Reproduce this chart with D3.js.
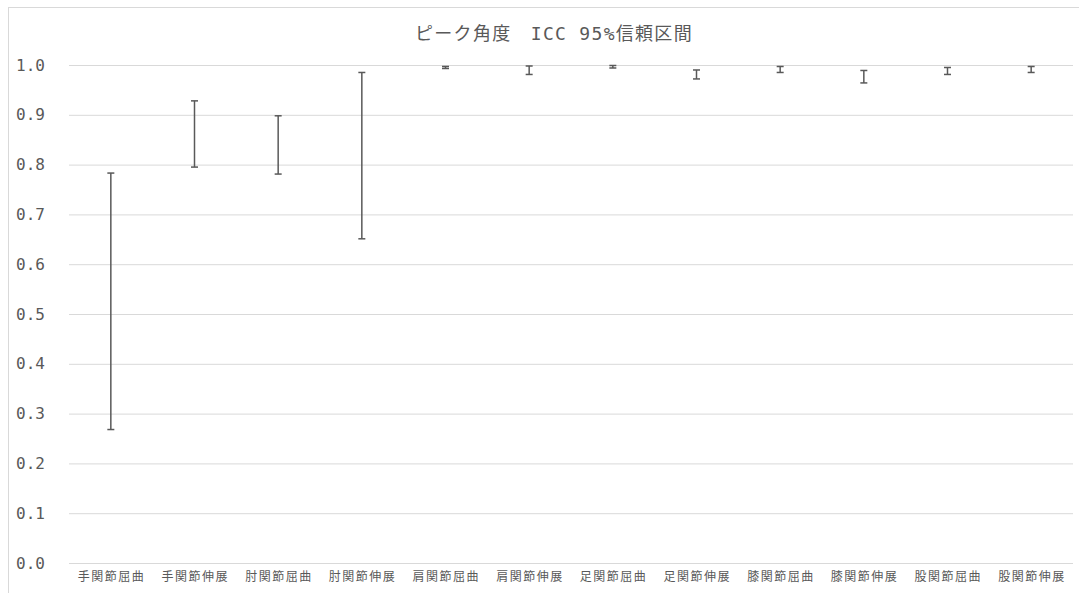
<!DOCTYPE html>
<html>
<head>
<meta charset="utf-8">
<script src="https://cdn.jsdelivr.net/npm/d3@7"></script>
<style>
html, body { margin: 0; padding: 0; background: #fff; }
svg { display: block; }
text { font-family: "Noto Sans CJK JP", "Noto Sans", sans-serif; fill: #595959; }
</style>
</head>
<body>
<script>
const title = "ピーク角度　ICC 95%信頼区間";
const categories = ["手関節屈曲","手関節伸展","肘関節屈曲","肘関節伸展","肩関節屈曲","肩関節伸展","足関節屈曲","足関節伸展","膝関節屈曲","膝関節伸展","股関節屈曲","股関節伸展"];
const lower = [0.268, 0.795, 0.781, 0.651, 0.993, 0.981, 0.994, 0.972, 0.985, 0.964, 0.981, 0.985];
const upper = [0.783, 0.928, 0.898, 0.985, 0.997, 0.998, 0.999, 0.990, 0.997, 0.989, 0.995, 0.997];
const yTicks = [0, 0.1, 0.2, 0.3, 0.4, 0.5, 0.6, 0.7, 0.8, 0.9, 1.0];

const W = 1079, H = 593;
const plot = {left: 69, right: 1073, top: 65, bottom: 563};
const monoCJK = '"DejaVu Sans Mono", "Noto Sans CJK JP", monospace';

const svg = d3.select("body").append("svg").attr("width", W).attr("height", H);

// chart border
svg.append("rect").attr("x", 8.5).attr("y", 7.5).attr("width", W + 20).attr("height", H + 20)
  .attr("fill", "#fff").attr("stroke", "#d9d9d9").attr("stroke-width", 1);

const x = d3.scaleBand().domain(categories).range([plot.left, plot.right]).padding(0);
const y = d3.scaleLinear().domain([0, 1]).range([plot.bottom, plot.top]);

// gridlines + y labels
const yAxis = d3.axisLeft(y).tickValues(yTicks).tickSize(-(plot.right - plot.left)).tickPadding(24)
  .tickFormat(d3.format(".1f"));
const gy = svg.append("g").attr("transform", `translate(${plot.left},0)`).call(yAxis);
gy.select(".domain").remove();
gy.selectAll(".tick line").attr("stroke", "#d9d9d9").attr("stroke-width", 1);
gy.selectAll(".tick text").attr("font-size", 16)
  .attr("fill", "#595959").style("font-family", monoCJK);

// x axis labels
const xAxis = d3.axisBottom(x).tickSize(0).tickPadding(9);
const gx = svg.append("g").attr("transform", `translate(0,${plot.bottom})`).call(xAxis);
gx.select(".domain").remove();
gx.selectAll(".tick text").attr("font-size", 12).attr("fill", "#595959")
  .attr("textLength", 66).attr("lengthAdjust", "spacing");

// error bars
const cap = 3.5;
const bars = svg.append("g").selectAll("g").data(categories).join("g")
  .attr("stroke", "#595959").attr("stroke-width", 1.5);
bars.append("line")
  .attr("x1", (d) => x(d) + x.bandwidth() / 2).attr("x2", (d) => x(d) + x.bandwidth() / 2)
  .attr("y1", (d, i) => y(lower[i])).attr("y2", (d, i) => y(upper[i]));
bars.append("line")
  .attr("x1", (d) => x(d) + x.bandwidth() / 2 - cap).attr("x2", (d) => x(d) + x.bandwidth() / 2 + cap)
  .attr("y1", (d, i) => y(lower[i])).attr("y2", (d, i) => y(lower[i]));
bars.append("line")
  .attr("x1", (d) => x(d) + x.bandwidth() / 2 - cap).attr("x2", (d) => x(d) + x.bandwidth() / 2 + cap)
  .attr("y1", (d, i) => y(upper[i])).attr("y2", (d, i) => y(upper[i]));

// title
svg.append("text").attr("x", 554).attr("y", 40).attr("text-anchor", "middle")
  .attr("font-size", 18).attr("letter-spacing", "1.3px")
  .style("font-family", monoCJK)
  .text(title);
</script>
</body>
</html>
